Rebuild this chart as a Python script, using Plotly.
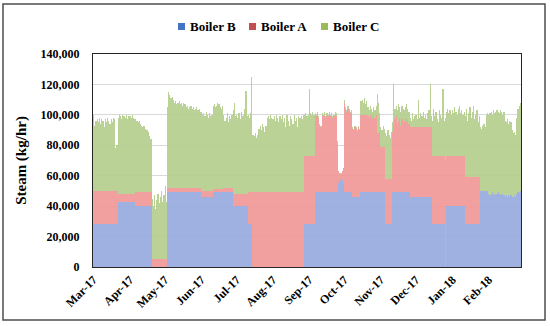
import pandas as pd
import numpy as np
import plotly.graph_objects as go

# Daily values, thousand kg/hr, 1 Mar 2017 .. 28 Feb 2018
boiler_b = (
    [28]*21 + [43]*10 +                                   # Mar
    [43]*5 + [40]*14 + [0]*11 +                           # Apr
    [0]*2 + [49]*29 +                                     # May
    [46]*10 + [49]*17 + [40]*3 +                          # Jun
    [40]*10 + [28]*4 + [0]*17 +                           # Jul
    [0]*27 + [28]*4 +                                     # Aug
    [28]*5 + [49]*20 + [55, 57, 57, 57, 55] +             # Sep
    [49]*7 + [46]*7 + [49]*17 +                           # Oct
    [49]*4 + [28]*6 + [49]*15 + [46]*5 +                  # Nov
    [46]*14 + [28]*11 + [0] + [40]*5 +                    # Dec
    [40]*11 + [28]*13 + [50]*7 +                          # Jan
    [48, 47, 48, 49, 48, 47, 48, 48, 49, 48, 47, 48, 48, 47,
     46, 47, 46, 47, 46, 47, 46, 46, 47, 46, 48, 49, 49, 50]  # Feb
)

boiler_a = (
    [22]*21 + [5]*10 +
    [5]*5 + [9]*14 + [5]*11 +
    [5]*2 + [3]*29 +
    [4]*10 + [2]*9 + [3]*8 + [8]*3 +
    [8]*10 + [21]*4 + [49]*17 +
    [49]*27 + [45]*4 +
    [45]*5 + [50, 50, 51, 49, 44, 43, 50, 50, 51, 49, 50, 50, 51, 50, 50, 49, 50, 51, 50]
    + [32, 8, 5, 4, 6, 10] +
    [59, 55, 53, 55, 54, 52, 52] + [45, 44, 46, 45, 43, 46, 44] + [51]*6
    + [50, 49, 51, 50, 48, 50, 49, 51] + [39, 39, 40] +
    [30]*4 + [30]*6 + [40, 45] + [48, 50, 45, 47, 49, 44, 48, 46, 47, 49, 46, 48, 45] + [46]*5 +
    [46]*14 + [45]*11 + [70] + [33]*5 +
    [33]*11 + [31]*13 + [0]*7 +
    [0]*28
)

boiler_c = (
    [50, 43, 46, 47, 45, 48, 44, 47, 46, 42, 47, 45, 48, 46, 44, 47, 45, 48, 47, 28, 30,
     50, 52, 51, 49, 52, 51, 50, 52, 49, 51] +
    [51, 50, 52, 50, 49, 48, 47, 46, 47, 45, 44, 43, 44, 42, 41, 41, 40, 37, 35,
     40, 35, 42, 33, 39, 43, 37, 41, 45, 38, 42] +
    [48, 38, 53, 63, 61, 59, 60, 58, 56, 57, 55, 56, 57, 55, 56, 54, 56, 55, 53, 54, 52,
     53, 54, 52, 53, 51, 52, 53, 51, 52, 50] +
    [52, 50, 51, 49, 52, 50, 48, 51, 49, 50, 55, 56, 54, 55, 57, 56, 54, 53, 55,
     48, 44, 46, 49, 43, 47, 45, 48, 55, 60, 51] +
    [52, 50, 53, 49, 54, 51, 52, 56, 68, 51, 51, 49, 52, 76, 38, 37, 39, 36, 38,
     42, 44, 41, 45, 43, 40, 44, 49, 50, 48, 51, 49] +
    [48, 50, 47, 51, 49, 46, 50, 48, 51, 46, 49, 43, 51, 47, 44, 50, 48, 45, 51, 47, 49,
     43, 50, 49, 50, 48, 51, 27, 28, 26, 27] +
    [44, 28, 27, 29, 27, 2, 1, 2, 1, 1, 1, 2, 1, 2, 1, 2, 1, 2, 1, 2, 1, 1, 2, 2,
     2, 0, 0, 1, 0, 0] +
    [2, 1, 1, 2, 1, 1, 2, 1, 1, 1, 1, 1, 1, 1, 9, 10, 8, 11, 7, 9,
     6, 5, 6, 5, 5, 6, 5, 6, 26, 20, 12] +
    [13, 11, 14, 12, 30, 28, 32, 29, 27, 31, 6, 26, 7, 7, 9, 11, 7, 9, 9, 9, 7, 7, 12, 7, 8,
     6, 4, 9, 5, 7] +
    [8, 5, 18, 6, 9, 7, 10, 6, 8, 5, 9, 11, 28, 7, 23, 31, 26, 29, 24, 22, 30, 27, 25, 44, 23,
     28, 29, 31, 28, 30, 27] +
    [30, 28, 32, 29, 27, 31, 33, 28, 30, 27, 29, 40, 45, 37, 42, 46, 39, 43, 47, 38, 41, 44,
     36, 40, 42, 41, 43, 44, 42, 50, 51] +
    [52, 54, 54, 51, 55, 54, 54, 55, 53, 53, 56, 54, 52, 55, 50, 48, 51, 47, 50, 48, 44, 42,
     42, 41, 50, 55, 57, 58]
)

dates = pd.date_range("2017-03-01", "2018-02-28", freq="D")
month_ticks = pd.date_range("2017-03-01", "2018-02-01", freq="MS")
month_labels = ["Mar-17", "Apr-17", "May-17", "Jun-17", "Jul-17", "Aug-17",
                "Sep-17", "Oct-17", "Nov-17", "Dec-17", "Jan-18", "Feb-18"]

series = [("Boiler B", boiler_b, "rgba(147,169,221,0.9)", "#4472C4"),
          ("Boiler A", boiler_a, "rgba(240,149,149,0.9)", "#C0504D"),
          ("Boiler C", boiler_c, "rgba(178,205,138,0.9)", "#9BBB59")]

fig = go.Figure()
for name, vals, col, _ in series:
    fig.add_trace(go.Bar(x=dates, y=np.array(vals) * 1000, name=name,
                         marker=dict(color=col, line=dict(width=0)),
                         showlegend=False))

SERIF = "Liberation Serif"
W, H = 550, 326
L, R, T, B = 93, 29, 54, 59
pw, ph = W - L - R, H - T - B


def px(x):
    return (x - L) / pw


def py(y):
    return (H - B - y) / ph


shapes = [dict(type="rect", xref="paper", yref="paper",
               x0=px(3), x1=px(545), y0=py(320), y1=py(4),
               line=dict(color="#4d4d4d", width=1.5), layer="below")]
annotations = []
leg_x = [178, 249, 321]
for (name, _, _, lc), x0 in zip(series, leg_x):
    shapes.append(dict(type="rect", xref="paper", yref="paper",
                       x0=px(x0), x1=px(x0 + 7), y0=py(30), y1=py(23),
                       fillcolor=lc, line=dict(width=0)))
    annotations.append(dict(text=name, xref="paper", yref="paper",
                            x=px(x0 + 10), y=py(26.5), xanchor="left", yanchor="middle",
                            showarrow=False,
                            font=dict(family=SERIF, size=13, color="#000", weight="bold")))

fig.update_layout(
    width=W, height=H, autosize=False,
    margin=dict(l=L, r=R, t=T, b=B),
    barmode="stack", bargap=0,
    plot_bgcolor="white", paper_bgcolor="white",
    shapes=shapes, annotations=annotations,
    xaxis=dict(type="date",
               range=["2017-02-28 12:00", "2018-02-28 12:00"],
               tickvals=month_ticks, ticktext=month_labels,
               tickangle=-45, showgrid=False, ticks="",
               showline=True, linecolor="#262626", linewidth=1, mirror=True,
               tickfont=dict(family=SERIF, size=12, color="#000", weight="bold")),
    yaxis=dict(range=[0, 140000], dtick=20000, tickformat=",",
               showgrid=True, gridcolor="#D9D9D9", gridwidth=1,
               showline=True, linecolor="#262626", linewidth=1, mirror=True,
               ticks="", ticklabelstandoff=10, zeroline=False,
               tickfont=dict(family=SERIF, size=12, color="#000", weight="bold"),
               title=dict(text="Steam (kg/hr)", standoff=10,
                          font=dict(family=SERIF, size=15, color="#000", weight="bold"))),
)

fig.write_html("out.html", config={"displayModeBar": False},
               post_script="document.body.style.margin='0';")
